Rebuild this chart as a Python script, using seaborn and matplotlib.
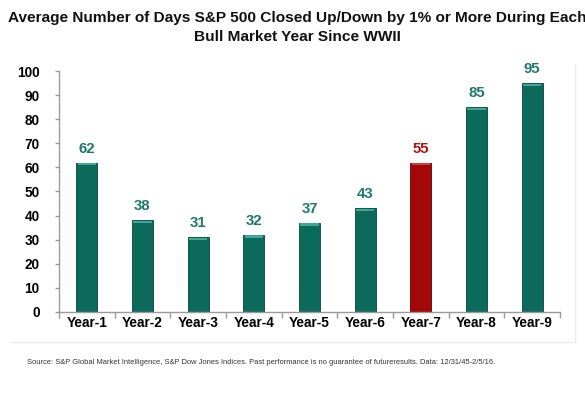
import matplotlib
matplotlib.use("Agg")
import matplotlib.pyplot as plt
import seaborn as sns
import pandas as pd
from matplotlib.patches import Rectangle

categories = ["Year-1", "Year-2", "Year-3", "Year-4", "Year-5", "Year-6", "Year-7", "Year-8", "Year-9"]
bar_values = [62, 38, 31, 32, 37, 43, 62, 85, 95]
label_values = ["62", "38", "31", "32", "37", "43", "55", "85", "95"]
highlight = ["no", "no", "no", "no", "no", "no", "yes", "no", "no"]
y_ticks = [0, 10, 20, 30, 40, 50, 60, 70, 80, 90, 100]

title = "Average Number of Days S&P 500 Closed Up/Down by 1% or More During Each\nBull Market Year Since WWII"
source = ("Source: S&P Global Market Intelligence, S&P Dow Jones Indices. Past performance is no guarantee of future"
          "results. Data: 12/31/45-2/5/16.")

sns.set_theme(style="white")
plt.rcParams["font.family"] = ["Liberation Sans", "DejaVu Sans"]

TEAL = "#0B6A5B"
RED = "#A30808"
TEAL_TXT = "#1D7A6A"
RED_TXT = "#B01212"

df = pd.DataFrame({"cat": categories, "val": bar_values, "hl": highlight})

fig = plt.figure(figsize=(5.85, 3.98), dpi=100)
ax = fig.add_axes([0.1009, 0.2161, 0.8563, 0.6055])

sns.barplot(data=df, x="cat", y="val", hue="hl", palette={"no": TEAL, "yes": RED},
            dodge=False, width=0.38, legend=False, ax=ax, saturation=1)

bars = list(ax.patches)
for p in bars:
    is_teal = p.get_facecolor()[0] < 0.3
    p.set_edgecolor("#05463C" if is_teal else "#6E0000")
    p.set_linewidth(0.6)
    # bevel highlight at top of each bar
    x0, w, top = p.get_x(), p.get_width(), p.get_y() + p.get_height()
    ax.add_patch(Rectangle((x0 + w * 0.06, top - 1.2), w * 0.88, 1.0,
                           facecolor="#3FA893" if is_teal else "#D04040", edgecolor="none", zorder=3))

ax.set_ylim(0, 100)
ax.set_xlim(-0.5, len(categories) - 0.5)
ax.set_yticks(y_ticks)
ax.set_yticklabels([str(t) for t in y_ticks], fontsize=9.8, fontweight="bold", color="black")
ax.set_xticks(range(len(categories)))
ax.set_xticklabels(categories, fontsize=9.8, fontweight="bold", color="black")
ax.set_xlabel("")
ax.set_ylabel("")

for s in ["top", "right"]:
    ax.spines[s].set_visible(False)
for s in ["left", "bottom"]:
    ax.spines[s].set_color("#9A9A9A")
    ax.spines[s].set_linewidth(1.0)

ax.tick_params(axis="y", which="major", length=3, width=1, color="#9A9A9A", direction="out", pad=11, left=True)
ax.tick_params(axis="x", which="major", length=0, pad=3, bottom=True)
ax.set_xticks([i - 0.5 for i in range(len(categories) + 1)], minor=True)
ax.tick_params(axis="x", which="minor", length=4, width=1, color="#9A9A9A", direction="out", bottom=True)

for i, (v, lab, h) in enumerate(zip(bar_values, label_values, highlight)):
    ax.annotate(lab, (i, v), xytext=(0, 5), textcoords="offset points", ha="center", va="bottom",
                fontsize=10.8, fontweight="bold", color=RED_TXT if h == "yes" else TEAL_TXT)

fig.text(0.508, 0.972, title, ha="center", va="top", fontsize=11.1, fontweight="bold",
         color="#111111", linespacing=1.45)
fig.text(0.447, 0.088, source, ha="center", va="center", fontsize=5.45, color="#333333")

# faint frame
fig.add_artist(plt.Line2D([0.017, 0.983], [0.141, 0.141], transform=fig.transFigure, color="#ECECEC", lw=1))
fig.add_artist(plt.Line2D([0.983, 0.983], [0.141, 0.84], transform=fig.transFigure, color="#ECECEC", lw=1))

fig.savefig("out.png", dpi=100)
